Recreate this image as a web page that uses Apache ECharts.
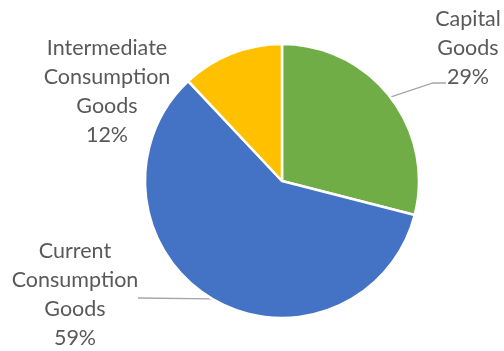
<!DOCTYPE html>
<html>
<head>
<meta charset="utf-8">
<script src="https://cdn.jsdelivr.net/npm/echarts@6/dist/echarts.min.js"></script>
<style>
  html, body { margin: 0; padding: 0; background: #ffffff; }
  #chart { width: 504px; height: 351px; }
</style>
</head>
<body>
<div id="chart"></div>
<script>
// Share of imports by broad economic category (%)
const categories = ['Capital Goods', 'Current Consumption Goods', 'Intermediate Consumption Goods'];
const shares = [29, 59, 12];
const sliceColors = ['#70AD47', '#4472C4', '#FFC000'];

// Label block centres and leader-line elbows, per slice
const labelSpots = [
  { x: 468, y: 48, line: [[433, 83], [446, 83]] },
  { x: 75, y: 295, line: [[138, 298]] },
  { x: 107, y: 92, line: null }
];

const chart = echarts.init(document.getElementById('chart'), null, { renderer: 'canvas' });

chart.setOption({
  animation: false,
  series: [{
    type: 'pie',
    center: [282, 181],
    radius: 137,
    startAngle: 90,
    clockwise: true,
    data: categories.map((name, i) => ({
      name: name,
      value: shares[i],
      itemStyle: { color: sliceColors[i] },
      labelLine: { show: !!labelSpots[i].line }
    })),
    itemStyle: { borderColor: '#ffffff', borderWidth: 2.5 },
    label: {
      show: true,
      position: 'outside',
      overflow: 'none',
      formatter: p => p.name.split(' ').join('\n') + '\n' + p.percent + '%',
      fontFamily: 'Lato',
      fontSize: 21.5,
      lineHeight: 29,
      color: '#595959',
      align: 'center'
    },
    labelLine: {
      show: true,
      lineStyle: { color: '#A6A6A6', width: 1.3 }
    },
    labelLayout: function (params) {
      const spot = labelSpots[params.dataIndex];
      const out = { x: spot.x, y: spot.y, align: 'center', verticalAlign: 'middle' };
      if (spot.line && params.labelLinePoints) {
        out.labelLinePoints = [params.labelLinePoints[0]].concat(spot.line);
      }
      return out;
    }
  }]
});
</script>
</body>
</html>
